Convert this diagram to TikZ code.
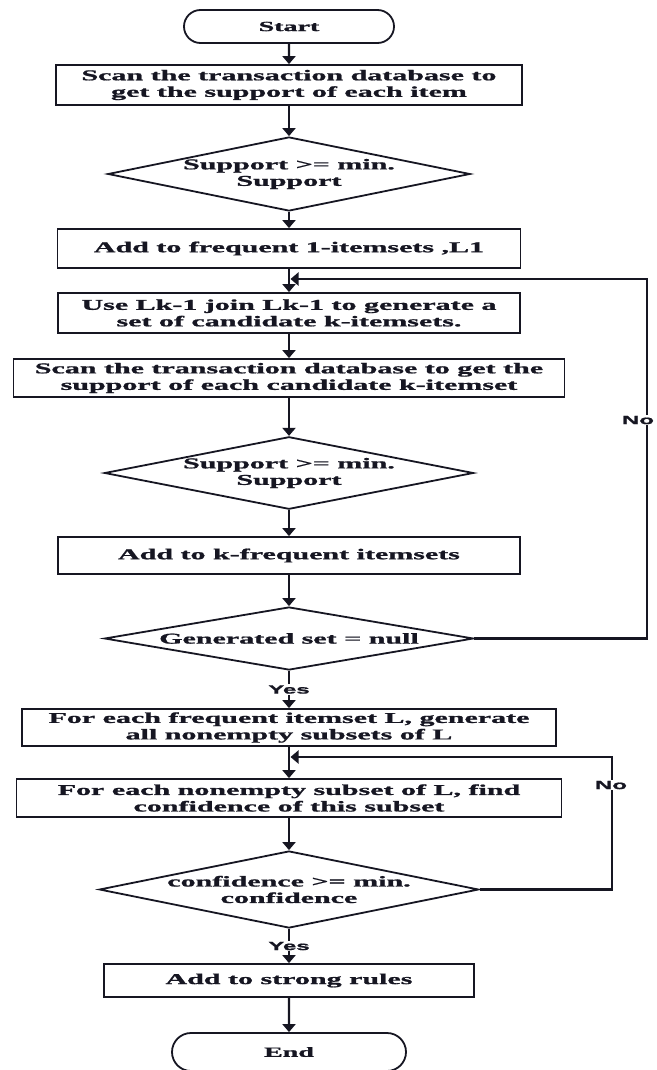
\documentclass[tikz,border=0pt]{standalone}
\usepackage{fontspec}
\setmainfont{Liberation Serif}[BoldFeatures={FakeBold=1}]
\newfontfamily\lsans{Liberation Sans}[BoldFeatures={FakeBold=1}]
\usepackage{graphicx}
\usetikzlibrary{shapes.geometric,shapes.misc,arrows.meta}
\definecolor{ink}{RGB}{22,22,34}
\newcommand{\sx}[1]{\scalebox{2}[1]{#1}}
\tikzset{
  base/.style={draw=ink, line width=1.8pt, inner sep=0pt, align=center, text=ink,
    font=\fontsize{15}{16.5}\selectfont\bfseries},
  procbox/.style={base, rectangle},
  decis/.style={base, diamond, aspect=5},
  term/.style={base, rounded rectangle, font=\fontsize{14}{16}\selectfont\bfseries},
  conn/.style={draw=ink, line width=2.2pt, -{Triangle[width=13pt,length=8pt]}},
  tag/.style={font=\lsans\fontsize{12}{13}\selectfont\bfseries, fill=white, inner sep=1pt, text=ink}
}
\begin{document}
\begin{tikzpicture}[x=1pt,y=-1pt]
\useasboundingbox (0,0) rectangle (656,1070);
\node[term, minimum width=210pt, minimum height=33pt] (start) at (289,26.5) {\sx{Start}};
\node[procbox, minimum width=466pt, minimum height=40pt] (b1) at (289,85) {\sx{Scan the transaction database to}\\\sx{get the support of each item}};
\node[decis, minimum width=360pt, minimum height=74pt] (d1) at (289,174) {\sx{Support >= min.}\\\sx{Support}};
\node[procbox, minimum width=463pt, minimum height=39pt] (b2) at (289,248.5) {\sx{Add to frequent 1-itemsets ,L1}};
\node[procbox, minimum width=462pt, minimum height=40pt] (b3) at (289,313) {\sx{Use Lk-1 join Lk-1 to generate a}\\\sx{set of candidate k-itemsets.}};
\node[procbox, minimum width=551pt, minimum height=38pt] (b4) at (289,378) {\sx{Scan the transaction database to get the}\\\sx{support of each candidate k-itemset}};
\node[decis, minimum width=369pt, minimum height=72pt] (d2) at (289,473) {\sx{Support >= min.}\\\sx{Support}};
\node[procbox, minimum width=462pt, minimum height=37pt] (b5) at (289,555.5) {\sx{Add to k-frequent itemsets}};
\node[decis, minimum width=369pt, minimum height=63pt] (d3) at (289,638.5) {\sx{Generated set = null}};
\node[procbox, minimum width=534pt, minimum height=37pt] (b6) at (289,727.5) {\sx{For each frequent itemset L, generate}\\\sx{all nonempty subsets of L}};
\node[procbox, minimum width=545pt, minimum height=38pt] (b7) at (289,798) {\sx{For each nonempty subset of L, find}\\\sx{confidence of this subset}};
\node[decis, minimum width=368pt, minimum height=77pt] (d4) at (289,889.5) {\sx{confidence >= min.}\\\sx{confidence}};
\node[procbox, minimum width=370pt, minimum height=33pt] (b8) at (289,980.5) {\sx{Add to strong rules}};
\node[term, minimum width=234pt, minimum height=38pt] (end) at (289,1052) {\sx{End}};
\coordinate (j1) at (290.5,279);
\coordinate (j2) at (290.5,757);
\coordinate (r1a) at (647,638.5);
\coordinate (r1b) at (647,279);
\coordinate (r2a) at (612,889.5);
\coordinate (r2b) at (612,757);
% main flow
\draw[conn] (start) -- (b1);
\draw[conn] (b1) -- (d1);
\draw[conn] (d1) -- (b2);
\draw[conn] (b2) -- (b3);
\draw[conn] (b3) -- (b4);
\draw[conn] (b4) -- (d2);
\draw[conn] (d2) -- (b5);
\draw[conn] (b5) -- (d3);
\draw[conn] (d3) -- node[tag] (yes1) {\sx{Yes}} (b6);
\draw[conn] (b6) -- (b7);
\draw[conn] (b7) -- (d4);
\draw[conn] (d4) -- node[tag] (yes2) {\sx{Yes}} (b8);
\draw[conn] (b8) -- (end);
% loops
\draw[conn] (d3.east) -- (r1a) -- (r1b) -- (j1);
\node[tag] (no1) at (638,420) {\sx{No}};
\draw[conn] (d4.east) -- (r2a) -- (r2b) -- (j2);
\node[tag] (no2) at (611,785) {\sx{No}};
\end{tikzpicture}
\end{document}
